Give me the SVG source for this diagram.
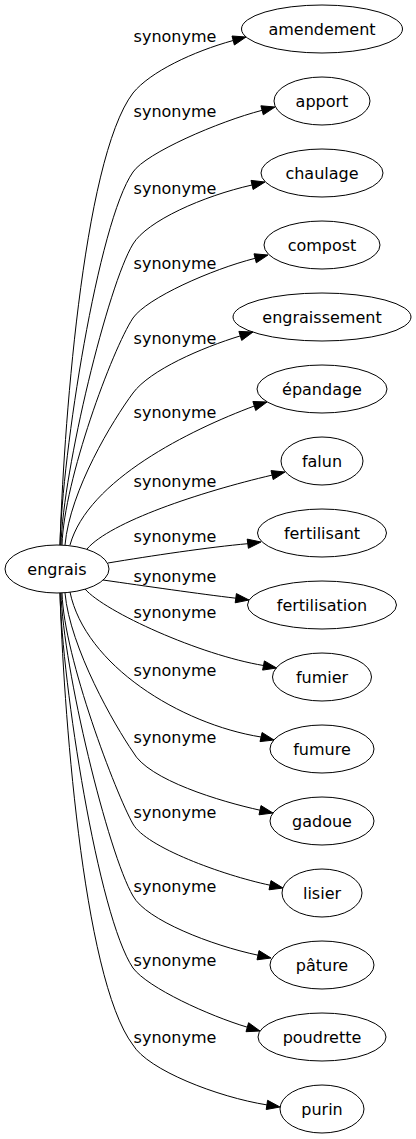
<svg xmlns="http://www.w3.org/2000/svg" width="416" height="1139" viewBox="0 0 416 1139">
<style>
.n ellipse{fill:none;stroke:#000;stroke-width:1}
text{font-family:"DejaVu Sans","Liberation Sans",sans-serif;font-size:16px;fill:#000;text-anchor:middle}
.e path{fill:none;stroke:#000;stroke-width:1}
.e polygon{fill:#000;stroke:#000;stroke-width:1}
</style>
<rect width="416" height="1139" fill="#fff"/>
<g id="edges" class="e">
<path d="M60,545 C63,440 82,160 133,93 C150,72 193,51.5 233.2,40.5"/><polygon points="246,37 234.4,45 232,36"/>
<path d="M60,545 C62,455 98,222 133,172 C146,153 218.5,121.6 262.1,110.3"/><polygon points="275,107 263.3,114.8 260.9,105.8"/>
<path d="M61,545 C63,470 108,285 133,244 C147,221 203,196 252,185"/><polygon points="265,182 253.1,189.5 251,180.4"/>
<path d="M62,545 C64,480 112,350 133,318 C147,298 211.5,269.4 255.1,258.3"/><polygon points="268,255 256.3,262.8 254,253.8"/>
<path d="M65,545 C70,490 113,420 133,393 C150,370 202,347.6 240.3,335.9"/><polygon points="253,332 241.7,340.4 238.9,331.4"/>
<path d="M70,545 C88,480 190,430 254.3,406"/><polygon points="267,402 255.7,410.5 252.9,401.5"/>
<path d="M87,549 C110,522 200,492 272.1,475.1"/><polygon points="285,472 273.2,479.6 271,470.6"/>
<path d="M108,563 C150,556 210,547 247.8,543.7"/><polygon points="261,542 248.4,548.3 247.2,539.1"/>
<path d="M103,580 C145,586 200,594 235.8,598.2"/><polygon points="249,600 235.2,602.8 236.4,593.6"/>
<path d="M85,589 C105,612 200,655 263.5,665.5"/><polygon points="276.6,668 262.6,670.1 264.4,660.9"/>
<path d="M70,592 C85,665 180,724 261,737"/><polygon points="274,740 260,741.6 262.1,732.5"/>
<path d="M65,593 C70,648 115,726 133,752 C148,780 221,801.6 260,810.2"/><polygon points="273,813 259,814.8 261,805.6"/>
<path d="M62,593 C64,658 116,794 133,824 C146,847 222,875 270,885.2"/><polygon points="283,888 269,889.8 271,880.6"/>
<path d="M61,593 C63,668 108,853 133,896 C146,920 212,945.5 258,955.2"/><polygon points="271,958 257,959.8 259,950.6"/>
<path d="M60,593 C62,683 98,916 133,968 C148,988 209,1015.7 247.3,1027.2"/><polygon points="260,1031 246,1031.7 248.6,1022.7"/>
<path d="M60,593 C63,698 82,978 133,1045 C148,1070 217.5,1097 266.9,1104.9"/><polygon points="280,1107 266.2,1109.5 267.6,1100.3"/>
<text x="175" y="42">synonyme</text>
<text x="175" y="117">synonyme</text>
<text x="175" y="194">synonyme</text>
<text x="175" y="269">synonyme</text>
<text x="175" y="344">synonyme</text>
<text x="175" y="418">synonyme</text>
<text x="175" y="487">synonyme</text>
<text x="175" y="542">synonyme</text>
<text x="175" y="582">synonyme</text>
<text x="175" y="618">synonyme</text>
<text x="175" y="676">synonyme</text>
<text x="175" y="743">synonyme</text>
<text x="175" y="818">synonyme</text>
<text x="175" y="892">synonyme</text>
<text x="175" y="966">synonyme</text>
<text x="175" y="1043">synonyme</text>
</g>
<g id="engrais" class="n"><ellipse cx="57" cy="569" rx="52" ry="24"/><text x="57" y="574.5">engrais</text></g>
<g id="amendement" class="n"><ellipse cx="322" cy="29" rx="80.5" ry="24"/><text x="322" y="34.5">amendement</text></g>
<g id="apport" class="n"><ellipse cx="322" cy="101" rx="48" ry="24"/><text x="322" y="106.5">apport</text></g>
<g id="chaulage" class="n"><ellipse cx="322" cy="173" rx="61" ry="24"/><text x="322" y="178.5">chaulage</text></g>
<g id="compost" class="n"><ellipse cx="322" cy="245" rx="58" ry="24"/><text x="322" y="250.5">compost</text></g>
<g id="engraissement" class="n"><ellipse cx="322" cy="317" rx="89" ry="24"/><text x="322" y="322.5">engraissement</text></g>
<g id="epandage" class="n"><ellipse cx="322" cy="389" rx="65" ry="24"/><text x="322" y="394.5">épandage</text></g>
<g id="falun" class="n"><ellipse cx="322" cy="461" rx="41" ry="24"/><text x="322" y="466.5">falun</text></g>
<g id="fertilisant" class="n"><ellipse cx="322" cy="533" rx="64.5" ry="24"/><text x="322" y="538.5">fertilisant</text></g>
<g id="fertilisation" class="n"><ellipse cx="322" cy="605" rx="74.5" ry="24"/><text x="322" y="610.5">fertilisation</text></g>
<g id="fumier" class="n"><ellipse cx="322" cy="677" rx="49.5" ry="24"/><text x="322" y="682.5">fumier</text></g>
<g id="fumure" class="n"><ellipse cx="322" cy="749" rx="52" ry="24"/><text x="322" y="754.5">fumure</text></g>
<g id="gadoue" class="n"><ellipse cx="322" cy="821" rx="52" ry="24"/><text x="322" y="826.5">gadoue</text></g>
<g id="lisier" class="n"><ellipse cx="322" cy="893" rx="40" ry="24"/><text x="322" y="898.5">lisier</text></g>
<g id="pature" class="n"><ellipse cx="322" cy="965" rx="52" ry="24"/><text x="322" y="970.5">pâture</text></g>
<g id="poudrette" class="n"><ellipse cx="322" cy="1037" rx="64" ry="24"/><text x="322" y="1042.5">poudrette</text></g>
<g id="purin" class="n"><ellipse cx="322" cy="1109" rx="42" ry="24"/><text x="322" y="1114.5">purin</text></g>
</svg>
